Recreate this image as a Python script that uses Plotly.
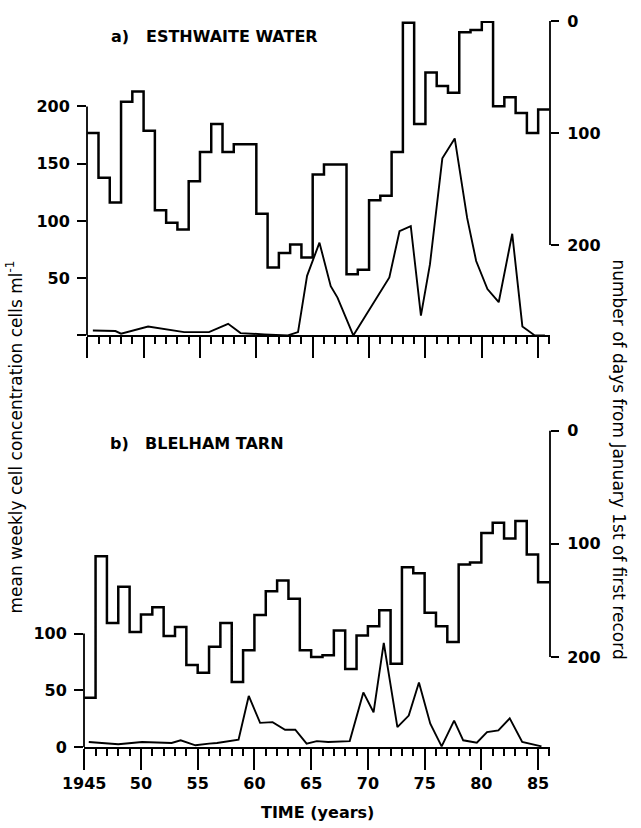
import plotly.graph_objects as go

# ---------------- data ----------------
years = list(range(1945, 1986))

# (a) Esthwaite Water: number of days from Jan 1st to first record (right axis, stepped)
esth_days = [100, 140, 162, 72, 63, 98, 169, 180, 186, 143,
             117, 92, 117, 110, 110, 172, 220, 207, 199.5, 211,
             137, 128, 128, 226, 222, 160, 156, 117, 1.5, 92,
             46, 58, 64, 10, 8, 0.6, 76, 68, 82, 100, 79]
# (a) mean weekly cell concentration (left axis)
esth_conc_x = [1945.5, 1947.5, 1948.0, 1950.4, 1953.6, 1955.8, 1957.5, 1958.6, 1960.7, 1962.8,
               1963.7, 1964.5, 1965.6, 1966.6, 1967.2, 1968.6, 1971.8, 1972.7, 1973.7, 1974.6,
               1975.4, 1976.5, 1977.6, 1978.7, 1979.5, 1980.5, 1981.5, 1982.7, 1983.6, 1984.7, 1985.6]
esth_conc = [4.3, 3.8, 1.5, 7.8, 2.9, 2.9, 10.1, 2.0, 0.9, 0,
             2.9, 52, 81, 43, 33, 0, 50.6, 91, 95.4, 17.3,
             62, 154.7, 172, 102.6, 65, 40.5, 29, 88.8, 7.8, 0, 0]

# (b) Blelham Tarn
blel_days = [236, 111, 170, 138, 178, 162.5, 156, 181.5, 173.4, 207,
             214, 191, 170, 222, 194, 163, 142, 132.5, 148.5, 194,
             200, 198.4, 176.5, 210.7, 181, 172.8, 158.8, 206, 120.8, 126,
             161, 172.8, 186.8, 118.2, 116.5, 90.5, 81.4, 95.4, 79.9, 109.5, 134]
blel_conc_x = [1945.4, 1948.0, 1950.1, 1952.7, 1953.5, 1954.8, 1956.0, 1956.7, 1958.6, 1959.5,
               1960.5, 1961.6, 1962.7, 1963.6, 1964.6, 1965.5, 1966.5, 1968.4, 1969.6, 1970.5,
               1971.4, 1972.6, 1973.6, 1974.5, 1975.5, 1976.5, 1977.6, 1978.4, 1979.6, 1980.5,
               1981.5, 1982.5, 1983.6, 1985.3]
blel_conc = [4.4, 2.4, 4.4, 3.5, 5.9, 1.5, 3.0, 3.5, 6.5, 45,
             21.3, 21.9, 15.2, 15.2, 3.0, 5.2, 4.4, 5.2, 48.1, 30.6,
             91.8, 17.5, 27.7, 56.8, 20.5, 0.6, 23.3, 5.9, 3.8, 13.1,
             14.6, 25.3, 4.4, 0.6]

x_major = list(range(1945, 1990, 5))
x_major_text = ["1945"] + [str(v % 100) for v in x_major[1:]]
esth_left_ticks = [0, 50, 100, 150, 200]
blel_left_ticks = [0, 50, 100]
right_ticks = [0, 100, 200]

# ---------------- figure ----------------
FONT = "DejaVu Sans"
INK = "#000000"
W, H = 641, 828
ML, MR, MT, MB = 84, 91, 15, 81

fig = go.Figure()

def step_xy(xs, ys):
    return xs + [xs[-1] + 1], ys + [ys[-1]]

sx, sy = step_xy(years, esth_days)
fig.add_trace(go.Scatter(x=sx, y=sy, xaxis="x2", yaxis="y4", mode="lines",
                         line=dict(color=INK, width=2.5, shape="hv"), showlegend=False))
fig.add_trace(go.Scatter(x=esth_conc_x, y=esth_conc, xaxis="x2", yaxis="y3", mode="lines",
                         line=dict(color=INK, width=1.9), showlegend=False))
bx, by = step_xy(years, blel_days)
fig.add_trace(go.Scatter(x=bx, y=by, xaxis="x", yaxis="y2", mode="lines",
                         line=dict(color=INK, width=2.5, shape="hv"), showlegend=False))
fig.add_trace(go.Scatter(x=blel_conc_x, y=blel_conc, xaxis="x", yaxis="y", mode="lines",
                         line=dict(color=INK, width=1.9), showlegend=False))

tickfont = dict(family=FONT, size=16, color=INK, weight="bold")
xcommon = dict(range=[1944.98, 1986.05], tickmode="array", tickvals=x_major,
               ticks="outside", ticklen=21, tickwidth=1.8, tickcolor=INK,
               showline=True, linecolor=INK, linewidth=1.8, showgrid=False, zeroline=False,
               minor=dict(tickmode="linear", tick0=1945, dtick=1, ticks="outside",
                          ticklen=7, tickwidth=1.8, tickcolor=INK, showgrid=False),
               tickfont=tickfont)
ycommon = dict(showgrid=False, zeroline=False, showline=False, ticks="outside",
               tickwidth=1.8, tickcolor=INK, tickfont=tickfont, tickmode="array")

plot_h = H - MT - MB
bot_top = (746.7 - 427.7) / plot_h
top_bot = (746.7 - 331.7) / plot_h
plot_w = W - ML - MR

fig.update_layout(
    width=W, height=H, margin=dict(l=ML, r=MR, t=MT, b=MB),
    paper_bgcolor="white", plot_bgcolor="white",
    xaxis=dict(**xcommon, domain=[0, 1], anchor="y", ticktext=x_major_text),
    xaxis2=dict(**xcommon, domain=[3 / plot_w, 1], anchor="y3", showticklabels=False),
    yaxis=dict(**ycommon, domain=[0, bot_top], anchor="x", range=[0, 278.8],
               tickvals=blel_left_ticks, ticklen=9, ticklabelstandoff=4),
    yaxis2=dict(**ycommon, domain=[0, bot_top], anchor="x", overlaying="y", side="right",
                range=[279.5, 0], tickvals=right_ticks, ticklen=8, ticklabelstandoff=5),
    yaxis3=dict(**ycommon, domain=[top_bot, 1], anchor="x2", range=[0, 274.6],
                tickvals=esth_left_ticks, ticktext=[""] + [str(v) for v in esth_left_ticks[1:]],
                ticklen=9, ticklabelstandoff=4),
    yaxis4=dict(**ycommon, domain=[top_bot, 1], anchor="x2", overlaying="y3", side="right",
                range=[280.6, 0], tickvals=right_ticks, ticklen=8, ticklabelstandoff=5),
)

# partial axis lines (span only the labelled tick range)
line_style = dict(color=INK, width=1.8)
fig.add_shape(type="line", xref="x2 domain", yref="y3", x0=0, x1=0,
              y0=esth_left_ticks[0], y1=esth_left_ticks[-1], line=line_style)
fig.add_shape(type="line", xref="x2 domain", yref="y4", x0=1, x1=1,
              y0=right_ticks[0], y1=right_ticks[-1], line=line_style)
fig.add_shape(type="line", xref="x domain", yref="y", x0=0, x1=0,
              y0=blel_left_ticks[0], y1=blel_left_ticks[-1], line=line_style)
fig.add_shape(type="line", xref="x domain", yref="y2", x0=1, x1=1,
              y0=right_ticks[0], y1=right_ticks[-1], line=line_style)

def px_x(p):
    return (p - ML) / plot_w

def px_y(p):
    return (H - MB - p) / plot_h

title_font = dict(family=FONT, size=16, color=INK, weight="bold")
ann = [
    dict(text="a)", x=px_x(109), y=px_y(30.5), xanchor="left"),
    dict(text="ESTHWAITE WATER", x=px_x(144), y=px_y(30.5), xanchor="left"),
    dict(text="b)", x=px_x(107.5), y=px_y(441), xanchor="left"),
    dict(text="BLELHAM TARN", x=px_x(143), y=px_y(441), xanchor="left"),
]
for a in ann:
    fig.add_annotation(xref="paper", yref="paper", yanchor="middle", showarrow=False,
                       font=title_font, **a)

axis_font = dict(family=FONT, size=17, color=INK)
fig.add_annotation(xref="paper", yref="paper", x=px_x(14), y=px_y(435),
                   text="mean weekly cell concentration cells ml<sup>-1</sup>",
                   textangle=-90, showarrow=False, font=axis_font,
                   xanchor="center", yanchor="middle")
fig.add_annotation(xref="paper", yref="paper", x=px_x(619), y=px_y(457),
                   text="number of days from January 1st of first record",
                   textangle=90, showarrow=False, font=axis_font,
                   xanchor="center", yanchor="middle")
fig.add_annotation(xref="paper", yref="paper", x=px_x(317), y=px_y(813),
                   text="TIME (years)", showarrow=False,
                   font=dict(family=FONT, size=16, color=INK, weight="bold"),
                   xanchor="center", yanchor="middle")

fig.write_html("out.html")
